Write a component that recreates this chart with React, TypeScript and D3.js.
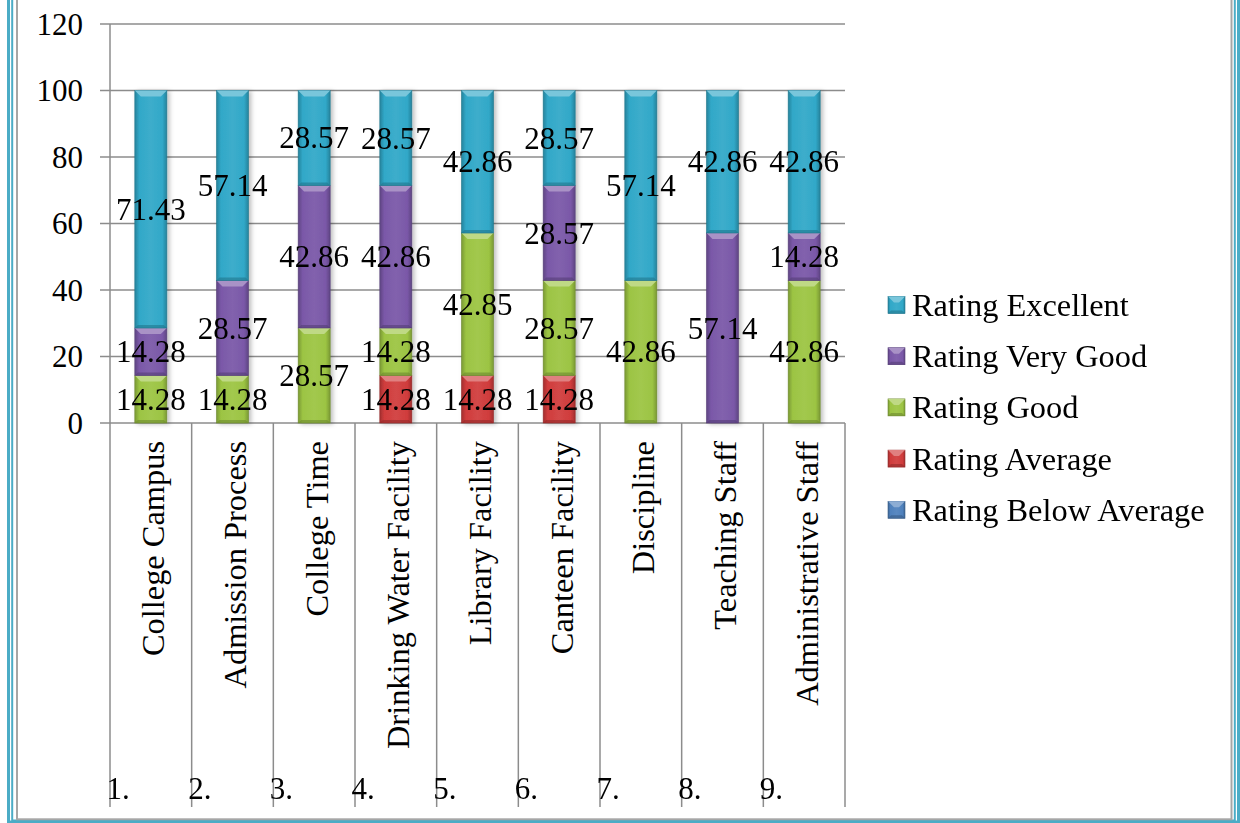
import React from "react";
import * as d3 from "d3";

const categories = [
  "College Campus",
  "Admission Process",
  "College Time",
  "Drinking Water Facility",
  "Library Facility",
  "Canteen Facility",
  "Discipline",
  "Teaching Staff",
  "Administrative Staff",
];
const outerLabels = ["1.", "2.", "3.", "4.", "5.", "6.", "7.", "8.", "9."];

const belowAverage = [0, 0, 0, 0, 0, 0, 0, 0, 0];
const average = [0, 0, 0, 14.28, 14.28, 14.28, 0, 0, 0];
const good = [14.28, 14.28, 28.57, 14.28, 42.85, 28.57, 42.86, 0, 42.86];
const veryGood = [14.28, 28.57, 42.86, 42.86, 0, 28.57, 0, 57.14, 14.28];
const excellent = [71.43, 57.14, 28.57, 28.57, 42.86, 28.57, 57.14, 42.86, 42.86];

const yTicks = [0, 20, 40, 60, 80, 100, 120];

const seriesKeys = ["Rating Below Average", "Rating Average", "Rating Good", "Rating Very Good", "Rating Excellent"];
const seriesValues = [belowAverage, average, good, veryGood, excellent];
const seriesColors = ["#4F81BD", "#D03C3C", "#9CC443", "#7A58A8", "#31A8C8"];

const FONT = '"Liberation Serif", "Times New Roman", serif';
const FS = 31;
const FS_TEXT = 32.4;

function Seg({ x, y, w, h, color, id }: { x: number; y: number; w: number; h: number; color: string; id: string }) {
  if (h <= 0) return null;
  const b = Math.min(6, h / 2, w / 2);
  const light = d3.interpolateRgb(color, "#ffffff")(0.35);
  const dark = d3.interpolateRgb(color, "#000000")(0.3);
  return (
    <g>
      <rect x={x} y={y} width={w} height={h} fill={`url(#grad-${id})`} stroke={dark} strokeWidth={0.6} />
      <polygon
        points={`${x},${y} ${x + w},${y} ${x + w - b},${y + b} ${x + b},${y + b}`}
        fill={light}
      />
      <polygon
        points={`${x},${y + h} ${x + w},${y + h} ${x + w - b * 0.5},${y + h - b * 0.5} ${x + b * 0.5},${y + h - b * 0.5}`}
        fill={dark}
        opacity={0.6}
      />
    </g>
  );
}

export default function App() {
  const W = 1240;
  const H = 823;
  const x0 = 110;
  const x1 = 845;
  const yBottom = 423;
  const yTop = 24;
  const catBottom = 807;

  const x = d3.scaleBand<string>().domain(categories).range([x0, x1]).paddingInner(0).paddingOuter(0);
  const y = d3.scaleLinear().domain([0, 120]).range([yBottom, yTop]);
  const bw = x.bandwidth() * 0.392;

  const rows = categories.map((c, i) => {
    const r: any = { cat: c };
    seriesKeys.forEach((k, j) => (r[k] = seriesValues[j][i]));
    return r;
  });
  const stacked = d3.stack<any>().keys(seriesKeys)(rows);
  const fmt = d3.format(".2f");

  const boundaries = categories.map((c) => x(c) as number).concat([x1]);

  const legendOrder = [4, 3, 2, 1, 0];
  const legendX = 888;
  const legendY0 = 305;
  const legendStep = 51.2;

  return (
    <svg width={W} height={H} style={{ position: "absolute", left: 0, top: 0, background: "#fff" }} fontFamily={FONT}>
      <defs>
        {seriesColors.map((c, i) => {
          const dark = d3.interpolateRgb(c, "#000000")(0.22);
          const mid = d3.interpolateRgb(c, "#ffffff")(0.06);
          return (
            <linearGradient key={i} id={`grad-s${i}`} x1="0" x2="1" y1="0" y2="0">
              <stop offset="0%" stopColor={dark} />
              <stop offset="14%" stopColor={c} />
              <stop offset="50%" stopColor={mid} />
              <stop offset="86%" stopColor={c} />
              <stop offset="100%" stopColor={dark} />
            </linearGradient>
          );
        })}
        <filter id="shadow" x="-20%" y="-5%" width="150%" height="110%">
          <feDropShadow dx="2.5" dy="1" stdDeviation="2" floodColor="#000" floodOpacity="0.25" />
        </filter>
      </defs>
      <rect x={0} y={0} width={W} height={H} fill="#fff" />

      {/* frame */}
      <rect x={8.5} y={-10} width={1230} height={832} fill="none" stroke="#4BACC6" strokeWidth={3} />
      <rect x={12.2} y={-10} width={1222.6} height={830.5} fill="none" stroke="#4BACC6" strokeWidth={2} />
      <rect x={17} y={-10} width={1214.5} height={829.3} fill="none" stroke="#A6A6A6" strokeWidth={2} />

      {/* gridlines */}
      {yTicks.map((t) => (
        <line key={t} x1={100} x2={x1} y1={y(t)} y2={y(t)} stroke="#8C8C8C" strokeWidth={1.5} />
      ))}
      {/* y axis */}
      <line x1={x0} x2={x0} y1={yTop} y2={yBottom} stroke="#8C8C8C" strokeWidth={1.5} />
      {yTicks.map((t) => (
        <text key={t} x={83} y={y(t)} textAnchor="end" dominantBaseline="central" fontSize={FS} fill="#000">
          {t}
        </text>
      ))}

      {/* category separators */}
      {boundaries.map((bx, i) => (
        <line key={i} x1={bx} x2={bx} y1={yBottom} y2={catBottom} stroke="#8C8C8C" strokeWidth={1.5} />
      ))}

      {/* bars */}
      <g filter="url(#shadow)">
        {stacked.map((s, si) =>
          s.map((d, i) => {
            const cx = (x(categories[i]) as number) + x.bandwidth() / 2;
            const top = y(d[1]);
            const h = y(d[0]) - y(d[1]);
            return <Seg key={`${si}-${i}`} x={cx - bw / 2} y={top} w={bw} h={h} color={seriesColors[si]} id={`s${si}`} />;
          })
        )}
      </g>

      {/* data labels */}
      {stacked.map((s, si) =>
        s.map((d, i) => {
          const v = seriesValues[si][i];
          if (!v) return null;
          const cx = (x(categories[i]) as number) + x.bandwidth() / 2;
          const cy = (y(d[0]) + y(d[1])) / 2;
          return (
            <text key={`l${si}-${i}`} x={cx} y={cy} textAnchor="middle" dominantBaseline="central" fontSize={FS} fill="#000">
              {fmt(v)}
            </text>
          );
        })
      )}

      {/* category labels */}
      {categories.map((c) => {
        const cx = (x(c) as number) + x.bandwidth() / 2 + 2;
        return (
          <text
            key={c}
            transform={`translate(${cx},441) rotate(-90)`}
            textAnchor="end"
            dy="0.35em"
            fontSize={FS_TEXT}
            fill="#000"
          >
            {c}
          </text>
        );
      })}
      {outerLabels.map((l, i) => (
        <text key={l} x={(x(categories[i]) as number) - 3.5} y={799} fontSize={FS} fill="#000">
          {l}
        </text>
      ))}

      {/* legend */}
      {legendOrder.map((si, k) => {
        const cy = legendY0 + k * legendStep;
        return (
          <g key={si}>
            <Seg x={legendX} y={cy - 8.5} w={17} h={17} color={seriesColors[si]} id={`s${si}`} />
            <text x={912} y={cy} dominantBaseline="central" fontSize={FS_TEXT} fill="#000">
              {seriesKeys[si]}
            </text>
          </g>
        );
      })}
    </svg>
  );
}
